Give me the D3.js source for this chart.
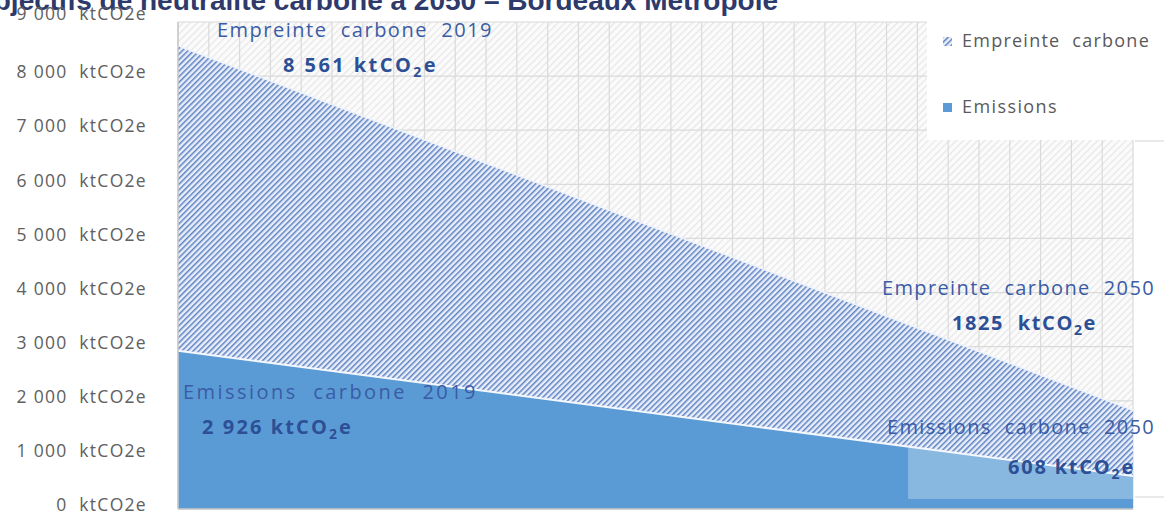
<!DOCTYPE html>
<html>
<head>
<meta charset="utf-8">
<script src="https://cdn.jsdelivr.net/npm/d3@7"></script>
<style>
  body { margin: 0; background: #fff; }
  svg { display: block; font-family: "Open Sans", "Liberation Sans", sans-serif; }
</style>
</head>
<body>
<div id="chart"></div>
<script>
"use strict";

// data
var years = [2019, 2050];
var empreinte = [8561, 1825];
var emissions = [2926, 608];
var yTicks = [0, 1000, 2000, 3000, 4000, 5000, 6000, 7000, 8000, 9000];
var legendLabels = ["Empreinte  carbone", "Emissions"];

var W = 1164, H = 515;
var plot = {left: 178, right: 1133, top: 22, bottom: 509};

var fr = d3.formatLocale({decimal: ",", thousands: " ", grouping: [3], currency: ["", " €"]});
var fmt = fr.format(",d");

var svg = d3.select("#chart").append("svg")
  .attr("width", W)
  .attr("height", H);

var defs = svg.append("defs");

// faint background hatch
var bg = defs.append("pattern")
  .attr("id", "bgHatch")
  .attr("patternUnits", "userSpaceOnUse")
  .attr("width", 5).attr("height", 5)
  .attr("patternTransform", "rotate(45)");
bg.append("rect").attr("width", 5).attr("height", 5).attr("fill", "#fbfbfb");
bg.append("rect").attr("width", 1.2).attr("height", 5).attr("fill", "#e6e6e6");

// blue hatch of the footprint area
var hatch = defs.append("pattern")
  .attr("id", "blueHatch")
  .attr("patternUnits", "userSpaceOnUse")
  .attr("width", 4).attr("height", 4)
  .attr("patternTransform", "rotate(45)");
hatch.append("rect").attr("width", 4).attr("height", 4).attr("fill", "#e9eff9");
hatch.append("rect").attr("width", 1.5).attr("height", 4).attr("fill", "#5f82c4");

// scales
var x = d3.scaleLinear().domain([2019, 2050]).range([plot.left, plot.right]);
var y = d3.scaleLinear().domain([0, 9000]).range([plot.bottom, plot.top]);

// title, cut at the top of the picture
svg.append("text")
  .attr("x", 778)
  .attr("y", 10)
  .attr("text-anchor", "end")
  .style("font-family", "'Liberation Sans', Arial, sans-serif")
  .style("font-weight", "bold")
  .style("font-size", "28px")
  .style("fill", "#2d3a6b")
  .text("Objectifs de neutralité carbone à 2050 – Bordeaux Métropole");

// plot background
svg.append("rect")
  .attr("x", plot.left).attr("y", plot.top)
  .attr("width", plot.right - plot.left)
  .attr("height", plot.bottom - plot.top)
  .attr("fill", "url(#bgHatch)");

// grid
var grid = svg.append("g");
grid.selectAll(".vg")
  .data(d3.range(2019, 2051))
  .enter().append("line")
    .attr("x1", function(d) { return x(d); })
    .attr("x2", function(d) { return x(d); })
    .attr("y1", plot.top).attr("y2", plot.bottom)
    .attr("stroke", "#dadada").attr("stroke-width", 1.2);
grid.selectAll(".hg")
  .data(yTicks)
  .enter().append("line")
    .attr("x1", plot.left).attr("x2", plot.right)
    .attr("y1", function(d) { return y(d); })
    .attr("y2", function(d) { return y(d); })
    .attr("stroke", "#dadada").attr("stroke-width", 1.2);

// areas
var rowsE = years.map(function(yr, i) { return {year: yr, v: empreinte[i]}; });
var rowsM = years.map(function(yr, i) { return {year: yr, v: emissions[i]}; });

var area = d3.area()
  .x(function(d) { return x(d.year); })
  .y0(y(0))
  .y1(function(d) { return y(d.v); });
var line = d3.line()
  .x(function(d) { return x(d.year); })
  .y(function(d) { return y(d.v); });

svg.append("path")
  .datum(rowsE)
  .attr("d", area)
  .attr("fill", "url(#blueHatch)");
svg.append("path")
  .datum(rowsE)
  .attr("d", line)
  .attr("fill", "none")
  .attr("stroke", "#eef3fb")
  .attr("stroke-width", 1.5);

defs.append("clipPath").attr("id", "emClip")
  .append("path").datum(rowsM).attr("d", area);

svg.append("path")
  .datum(rowsM)
  .attr("d", area)
  .attr("fill", "#5b9bd5");
// lighter box behind the 2050 label
svg.append("rect")
  .attr("clip-path", "url(#emClip)")
  .attr("x", x(2042.7))
  .attr("width", x(2050) - x(2042.7))
  .attr("y", y(4000))
  .attr("height", y(185) - y(4000))
  .attr("fill", "#ffffff")
  .attr("opacity", 0.28);
svg.append("path")
  .datum(rowsM)
  .attr("d", line)
  .attr("fill", "none")
  .attr("stroke", "#f4f8fd")
  .attr("stroke-width", 2);

// frame
svg.append("line")
  .attr("x1", plot.left).attr("x2", plot.left)
  .attr("y1", plot.top).attr("y2", plot.bottom)
  .attr("stroke", "#c8c8c8").attr("stroke-width", 1.5);
svg.append("line")
  .attr("x1", plot.left).attr("x2", plot.right)
  .attr("y1", plot.bottom).attr("y2", plot.bottom)
  .attr("stroke", "#c8c8c8").attr("stroke-width", 1.5);

// helper: stretch a text to the width seen in the picture
function fitWidth(sel, target) {
  var n = sel.text().length;
  var len = sel.node().getComputedTextLength();
  sel.style("letter-spacing", ((target - len) / n) + "px");
}

// y axis
var yAxis = svg.append("g")
  .attr("transform", "translate(" + plot.left + ",0)")
  .call(d3.axisLeft(y).tickValues(yTicks).tickSize(0).tickPadding(31)
    .tickFormat(function(d) { return fmt(d) + "  ktCO2e"; }));
yAxis.select(".domain").remove();
yAxis.selectAll("text")
  .attr("dy", "0.1em")
  .style("font-family", "'Open Sans', sans-serif")
  .style("font-size", "17.5px")
  .style("letter-spacing", "1.3px")
  .style("white-space", "pre")
  .style("fill", "#606060");
yAxis.selectAll(".tick text").each(function(d) {
  if (d === 9000) d3.select(this).attr("dy", "-0.15em");
});

// legend box covering the grid
svg.append("rect")
  .attr("x", 927).attr("y", 0)
  .attr("width", W - 927).attr("height", 140)
  .attr("fill", "#fff");
svg.append("line")
  .attr("x1", 1135).attr("x2", W).attr("y1", 141).attr("y2", 141)
  .attr("stroke", "#d4d4d4");
svg.append("line")
  .attr("x1", 1135).attr("x2", W).attr("y1", 497).attr("y2", 497)
  .attr("stroke", "#d4d4d4");

var legend = svg.append("g");
var legFills = ["url(#blueHatch)", "#5b9bd5"];
var legY = [41, 107];
legendLabels.forEach(function(lbl, i) {
  legend.append("rect")
    .attr("x", 943).attr("y", legY[i] - 4)
    .attr("width", 9).attr("height", 9)
    .attr("fill", legFills[i]);
  var t = legend.append("text")
    .attr("x", 962).attr("y", legY[i] + 6)
    .style("font-size", "18px")
    .style("white-space", "pre")
    .style("fill", "#5a5a5a")
    .text(lbl);
  fitWidth(t, i === 0 ? 188 : 96);
});

// annotations
var ann = svg.append("g");

function note(xp, cy, str, width, size) {
  var t = ann.append("text")
    .attr("x", xp).attr("y", cy + size * 0.36)
    .style("font-size", size + "px")
    .style("white-space", "pre")
    .style("fill", "#3a5ca6")
    .text(str);
  fitWidth(t, width);
  return t;
}

function value(xp, cy, v, width, size) {
  var t = ann.append("text")
    .attr("x", xp).attr("y", cy + size * 0.36)
    .style("font-size", size + "px")
    .style("font-weight", "bold")
    .style("white-space", "pre")
    .style("fill", "#2c4f96");
  t.append("tspan").text(v + " ktCO");
  t.append("tspan").attr("dy", 5).style("font-size", (size * 0.7) + "px").text("2");
  t.append("tspan").attr("dy", -5).text("e");
  fitWidth(t, width);
  return t;
}

note(217, 30, "Empreinte  carbone  2019", 276, 20);
value(283, 65, fmt(empreinte[0]), 155, 20);
note(882, 288, "Empreinte  carbone  2050", 273, 20);
value(952, 323, String(empreinte[1]) + " ", 145, 20);
note(183, 392, "Emissions  carbone  2019", 295, 20);
value(202, 427, fmt(emissions[0]), 151, 20);
note(887, 427, "Emissions  carbone  2050", 268, 20);
value(1008, 467, fmt(emissions[1]), 127, 20);
</script>
</body>
</html>
